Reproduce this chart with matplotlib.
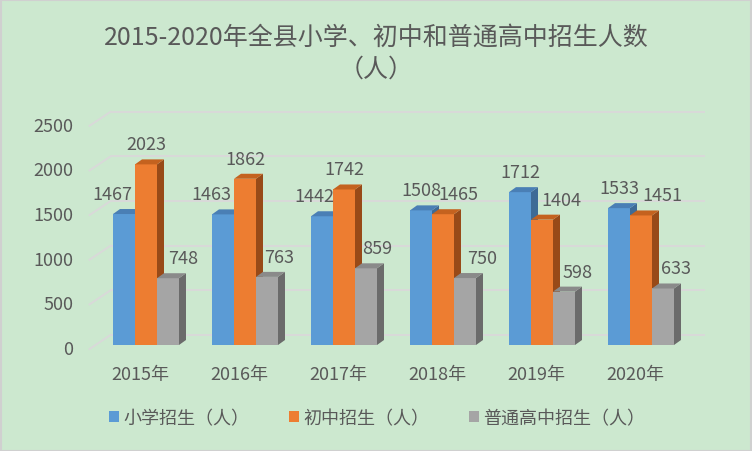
import matplotlib
matplotlib.use("Agg")
import matplotlib.pyplot as plt
from matplotlib.patches import Polygon, Patch, Rectangle

plt.rcParams['font.family'] = ['Noto Sans CJK SC', 'DejaVu Sans']

years = ['2015年', '2016年', '2017年', '2018年', '2019年', '2020年']
series_names = ['小学招生（人）', '初中招生（人）', '普通高中招生（人）']
primary = [1467, 1463, 1442, 1508, 1712, 1533]
junior = [2023, 1862, 1742, 1465, 1404, 1451]
senior = [748, 763, 859, 750, 598, 633]
yticks = [0, 500, 1000, 1500, 2000, 2500]
title = '2015-2020年全县小学、初中和普通高中招生人数\n（人）'

# styles
front_cols = ['#5B9BD5', '#ED7D31', '#A5A5A5']
top_cols = ['#4A7FB5', '#C4621F', '#8A8A8A']
side_cols = ['#3E6B96', '#984A18', '#6B6B6B']
label_dx_px = [[-12, -12, -8, 0, 0, 0],
               [0, 0, 0, 15, 19, 21],
               [15, 12, 11, 17, 14, 13]]
bg = '#CCE8CF'
txt = '#595959'
grid = '#D9D9D9'

W, H = 752, 452
fig = plt.figure(figsize=(W / 100, H / 100), dpi=100, facecolor=bg)
fig.patches.append(Rectangle((0.5 / W, 0.5 / H), 1 - 1.5 / W, 1 - 1.5 / H,
                             transform=fig.transFigure, fill=False,
                             edgecolor='#D0D0D0', lw=1.5))

# axes geometry (pixels)
px_per_cat = 99.0
x0_px = 146.0           # center of first group
base_px = 346.0         # front baseline
px_per_unit = 223.2 / 2500
left = (x0_px - 0.5 * px_per_cat) / W
bottom = (H - base_px) / H
ax = fig.add_axes([left, bottom, 6 * px_per_cat / W, 2500 * px_per_unit / H])
ax.set_facecolor('none')
ax.set_xlim(-0.5, 5.5)
ax.set_ylim(0, 2500)
for s in ax.spines.values():
    s.set_visible(False)
ax.set_xticks([])
ax.set_yticks([])

DX = 1.0 / px_per_cat       # data per px in x
DY = 1.0 / px_per_unit      # data per px in y

# back wall gridlines and left wall diagonals
for v in yticks:
    ax.plot([-0.5 + 14 * DX, 5.5 + 14 * DX], [v + 10 * DY, v + 10 * DY],
            color=grid, lw=1.4, zorder=1, clip_on=False, solid_capstyle='butt')
    ax.plot([-0.5 - 7 * DX, -0.5 + 14 * DX], [v - 4 * DY, v + 10 * DY],
            color=grid, lw=1.4, zorder=1, clip_on=False)
    ax.text(-0.5 - 23 * DX, v - 4 * DY, str(v), ha='right', va='center',
            fontsize=13, color=txt, clip_on=False)

# bars
bw = 22 * DX
ddx = 7 * DX
ddy = 5 * DY
all_vals = [primary, junior, senior]
for j, vals in enumerate(all_vals):
    offs = (j - 1) * bw
    xs = [i + offs for i in range(len(vals))]
    ax.bar(xs, vals, width=bw, color=front_cols[j], edgecolor='none', zorder=2 + j)
    for i, (x, v) in enumerate(zip(xs, vals)):
        xl, xr = x - bw / 2, x + bw / 2
        side = Polygon([(xr, 0), (xr + ddx, ddy), (xr + ddx, v + ddy), (xr, v)],
                       closed=True, facecolor=side_cols[j], edgecolor='none',
                       zorder=2 + j)
        top = Polygon([(xl, v), (xr, v), (xr + ddx, v + ddy), (xl + ddx, v + ddy)],
                      closed=True, facecolor=top_cols[j], edgecolor='none',
                      zorder=2 + j)
        ax.add_patch(side)
        ax.add_patch(top)
        ax.text(x + label_dx_px[j][i] * DX, v + 20 * DY, str(v),
                ha='center', va='center', fontsize=13, color=txt, zorder=10)

# category labels
for i, y in enumerate(years):
    ax.text(i - 6 * DX, -29 * DY, y, ha='center', va='center',
            fontsize=13, color=txt, clip_on=False)

# title
fig.text(376 / W, 1 - 54 / H, title, ha='center', va='center', fontsize=18,
         color=txt, linespacing=1.3)

# legend
handles = [Patch(facecolor=c, edgecolor='none') for c in front_cols]
leg = fig.legend(handles, series_names, loc='center', ncol=3,
                 bbox_to_anchor=(377 / W, 1 - 419 / H), frameon=False,
                 fontsize=13, handlelength=0.55, handleheight=0.55,
                 handletextpad=0.25, columnspacing=2.2)
for t in leg.get_texts():
    t.set_color(txt)

fig.savefig('out.png', dpi=100, facecolor=bg)
